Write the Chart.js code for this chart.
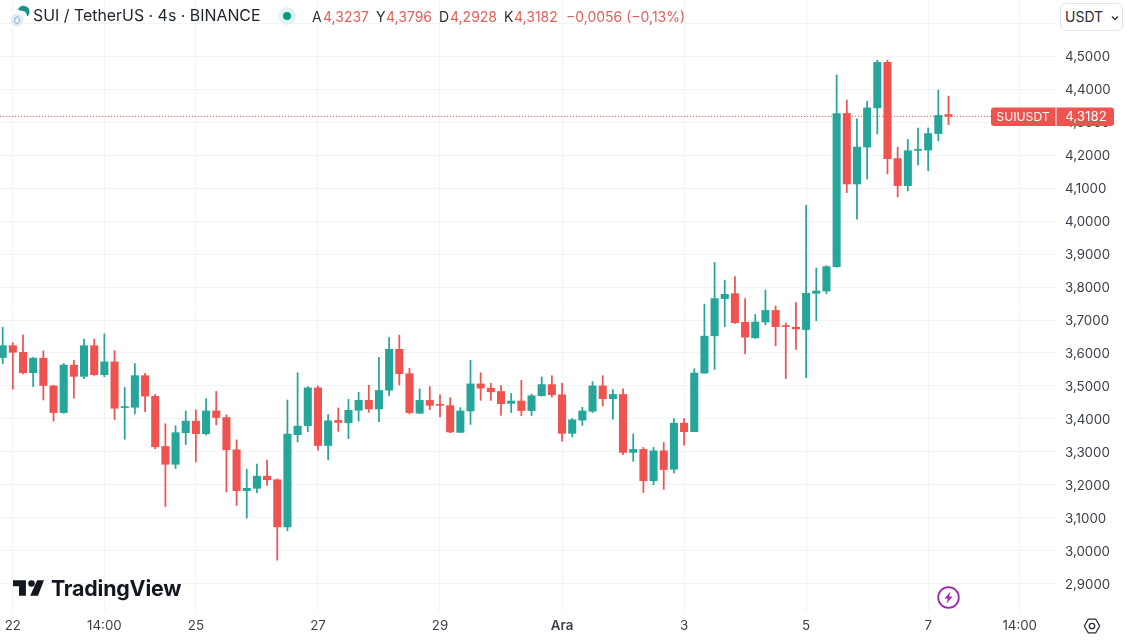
<!DOCTYPE html>
<html>
<head>
<meta charset="utf-8">
<title>SUI / TetherUS</title>
<script src="https://cdn.jsdelivr.net/npm/chart.js@4"></script>
<style>
  html,body{margin:0;padding:0;background:#fff;overflow:hidden}
  body{width:1127px;height:640px;position:relative;font-family:Inter,"Noto Sans",sans-serif;color:#131722}
  #grafica{position:absolute;left:0;top:0}
  .abs{position:absolute;white-space:nowrap}
  .title{left:33px;top:6px;font-size:15.9px;line-height:20px;color:#1e222d}
  .ohlc{top:8px;font-size:14px;line-height:17px;color:#e0605c}
  .ohlc b{font-weight:400;color:#2a2e39}
  .unit{left:1060px;top:3px;width:61px;height:26px;border:1px solid #e0e3eb;border-radius:6px;background:#fff;font-size:14px;line-height:26px;color:#2a2e39}
  .unit span{margin-left:4px}
  .brand{left:51px;top:574px;font-size:21.4px;line-height:28px;font-weight:700;color:#131722;letter-spacing:-.2px}
</style>
</head>
<body>
<canvas id="grafica" width="1127" height="640"></canvas>

<svg class="abs" style="left:10px;top:4px" width="22" height="24" viewBox="0 0 22 24">
  <circle cx="7" cy="16" r="6.5" fill="#e2ebf7"/>
  <path d="M7 12.5c1.7 2 2.5 3.2 2.5 4.3a2.5 2.5 0 0 1-5 0c0-1.1.8-2.3 2.5-4.3z" fill="#fff" stroke="#6fa8dc" stroke-width="1"/>
  <path d="M8 5.5a6 6 0 0 1 11.5 2.5c0 2-1 3.5-2.6 4.5 .3-2.6-1.4-5.4-4.4-5.5-1.8-.1-3.2-.5-4.5-1.5z" fill="#1f8f8a"/>
</svg>
<div class="abs title">SUI / TetherUS · 4s · BINANCE</div>
<svg class="abs" style="left:277px;top:6px" width="20" height="20">
  <circle cx="10" cy="10" r="9" fill="#e3f3f1"/>
  <circle cx="10" cy="10" r="4" fill="#089981"/>
</svg>
<div class="abs ohlc" style="left:312px"><b>A</b></div>
<div class="abs ohlc" style="left:323px">4,3237</div>
<div class="abs ohlc" style="left:376px"><b>Y</b></div>
<div class="abs ohlc" style="left:386px">4,3796</div>
<div class="abs ohlc" style="left:439px"><b>D</b></div>
<div class="abs ohlc" style="left:450px">4,2928</div>
<div class="abs ohlc" style="left:504px"><b>K</b></div>
<div class="abs ohlc" style="left:514px">4,3182</div>
<div class="abs ohlc" style="left:566px">−0,0056 (−0,13%)</div>

<div class="abs unit"><span>USDT</span>
  <svg class="abs" style="left:50px;top:11px" width="8" height="6" viewBox="0 0 8 6"><path d="M1 1.5l3 3 3-3" fill="none" stroke="#2a2e39" stroke-width="1.3"/></svg>
</div>

<svg class="abs" style="left:13px;top:580px" width="31" height="16" viewBox="0 0 36 18">
  <path d="M15 18H7V7H0V0h15zM29 18h-9L28 0h8z" fill="#131722"/>
  <circle cx="21.5" cy="3.8" r="3.8" fill="#131722"/>
</svg>
<div class="abs brand">TradingView</div>

<svg class="abs" style="left:936px;top:585px" width="25" height="25" viewBox="0 0 25 25">
  <circle cx="12.5" cy="12.5" r="10.3" fill="#fff" stroke="#9c27b0" stroke-width="1.8"/>
  <path d="M14.5 6.5l-6 7h3.4l-1.4 5 6-7h-3.4z" fill="#9c27b0"/>
</svg>
<svg class="abs" style="left:1083px;top:617px" width="18" height="18" viewBox="0 0 18 18">
  <path d="M5.2 2.2h7.6L16.7 9l-3.9 6.8H5.2L1.3 9z" fill="none" stroke="#2a2e39" stroke-width="1.3" stroke-linejoin="round"/>
  <circle cx="9" cy="9" r="2.7" fill="none" stroke="#2a2e39" stroke-width="1.3"/>
</svg>

<script>
const apertura = [3.586,3.622,3.602,3.540,3.584,3.500,3.419,3.563,3.529,3.622,
  3.534,3.573,3.434,3.435,3.531,3.468,3.316,3.262,3.358,3.393,
  3.355,3.424,3.404,3.306,3.182,3.189,3.226,3.215,3.072,3.352,
  3.379,3.494,3.319,3.395,3.388,3.426,3.456,3.430,3.487,3.611,
  3.537,3.417,3.456,3.444,3.440,3.359,3.424,3.506,3.493,3.483,
  3.447,3.454,3.425,3.470,3.504,3.473,3.356,3.396,3.423,3.500,
  3.461,3.474,3.298,3.307,3.212,3.303,3.247,3.387,3.361,3.539,
  3.652,3.765,3.780,3.693,3.646,3.694,3.729,3.683,3.678,3.671,
  3.781,3.788,3.862,4.327,4.113,4.225,4.344,4.482,4.190,4.108,
  4.215,4.216,4.266,4.3237];
const maximos = [3.678,3.631,3.654,3.587,3.606,3.502,3.568,3.578,3.642,3.642,
  3.658,3.607,3.495,3.568,3.538,3.474,3.385,3.379,3.424,3.427,
  3.461,3.483,3.412,3.336,3.247,3.263,3.275,3.218,3.457,3.540,
  3.498,3.500,3.413,3.433,3.459,3.480,3.502,3.587,3.647,3.654,
  3.553,3.491,3.498,3.473,3.464,3.434,3.578,3.540,3.508,3.501,
  3.477,3.517,3.475,3.527,3.531,3.508,3.401,3.435,3.513,3.531,
  3.489,3.491,3.354,3.313,3.313,3.328,3.401,3.401,3.552,3.748,
  3.875,3.821,3.832,3.765,3.717,3.791,3.742,3.691,3.753,4.048,
  3.858,3.865,4.444,4.368,4.311,4.364,4.489,4.489,4.225,4.248,
  4.283,4.283,4.398,4.3796];
const minimos = [3.568,3.490,3.536,3.498,3.457,3.393,3.417,3.463,3.522,3.532,
  3.528,3.398,3.338,3.415,3.422,3.309,3.134,3.249,3.322,3.269,
  3.351,3.382,3.178,3.137,3.099,3.176,3.198,2.971,3.060,3.330,
  3.361,3.305,3.275,3.362,3.340,3.393,3.420,3.391,3.470,3.503,
  3.415,3.416,3.428,3.406,3.358,3.358,3.383,3.456,3.456,3.410,
  3.419,3.410,3.410,3.469,3.466,3.332,3.345,3.380,3.419,3.439,
  3.399,3.291,3.271,3.176,3.200,3.186,3.236,3.320,3.361,3.538,
  3.550,3.680,3.690,3.598,3.644,3.685,3.622,3.522,3.611,3.525,
  3.698,3.780,3.860,4.087,4.006,4.128,4.265,4.144,4.074,4.092,
  4.171,4.153,4.244,4.2928];
const cierres = [3.622,3.602,3.540,3.584,3.501,3.419,3.563,3.529,3.622,3.534,
  3.573,3.432,3.437,3.531,3.469,3.315,3.262,3.358,3.393,3.355,
  3.424,3.404,3.306,3.182,3.189,3.226,3.215,3.072,3.354,3.378,
  3.494,3.319,3.394,3.389,3.426,3.456,3.430,3.486,3.611,3.537,
  3.419,3.456,3.441,3.441,3.360,3.424,3.506,3.493,3.482,3.446,
  3.454,3.425,3.470,3.504,3.473,3.356,3.397,3.424,3.500,3.461,
  3.474,3.298,3.307,3.212,3.303,3.246,3.387,3.361,3.539,3.651,
  3.765,3.778,3.692,3.648,3.694,3.729,3.680,3.680,3.673,3.781,
  3.788,3.862,4.327,4.113,4.225,4.344,4.482,4.190,4.108,4.214,
  4.218,4.266,4.321,4.3182];

const posicionesX = [1,10,19,31,43,55,67,79,91,100];
const etiquetasX = ["22","14:00","25","27","29","Ara","3","5","7","14:00"];
const marcasY = [2.9,3.0,3.1,3.2,3.3,3.4,3.5,3.6,3.7,3.8,3.9,4.0,4.1,4.2,4.3,4.4,4.5,4.6];
const ultimoPrecio = 4.3182;

const verde = "#26a69a";
const rojo = "#ef5350";
const texto = "#3a3e49";
const rejilla = "#f2f3f5";
const fuente = 'Inter, "Noto Sans", sans-serif';
const xMin = -0.2625, xMax = 103.57;

function coma(v, d) { return v.toFixed(d).replace(".", ","); }
function colorVela(ctx) {
  const i = ctx.dataIndex;
  return cierres[i] >= apertura[i] ? verde : rojo;
}

const cuerpos = cierres.map((c, i) => ({ x: i, y: [apertura[i], c] }));
const mechas = maximos.map((h, i) => ({ x: i, y: [minimos[i], h] }));

// the price labels sit 1px under their gridline, so they are drawn here
const etiquetaPrecio = {
  id: "etiquetaPrecio",
  afterDraw(chart) {
    const c = chart.ctx;
    const esc = chart.scales.y;
    const y = esc.getPixelForValue(ultimoPrecio);
    c.save();
    c.font = "13.3px " + fuente;
    c.textAlign = "left";
    c.textBaseline = "middle";
    c.fillStyle = texto;
    marcasY.filter(v => v < 4.55).forEach(v => {
      c.fillText(coma(v, 4), 1065, esc.getPixelForValue(v) + 1);
    });
    c.fillStyle = rojo;
    c.beginPath();
    c.roundRect(991, y - 9, 123, 18.5, 3);
    c.fill();
    c.fillStyle = "#fff";
    c.fillRect(1055.5, y - 9, 1, 18.5);
    c.textAlign = "center";
    c.fillText(coma(ultimoPrecio, 4), 1086, y + 1);
    c.font = "12.2px " + fuente;
    c.fillText("SUIUSDT", 1023, y + 1);
    c.restore();
  }
};

new Chart(document.getElementById("grafica").getContext("2d"), {
  type: "bar",
  plugins: [etiquetaPrecio],
  data: {
    datasets: [
      {
        type: "line",
        data: [{ x: xMin, y: ultimoPrecio }, { x: xMax, y: ultimoPrecio }],
        borderColor: rojo,
        borderWidth: 1,
        borderDash: [1, 2],
        pointRadius: 0,
        order: 3
      },
      {
        data: mechas,
        backgroundColor: colorVela,
        barThickness: 1.1,
        grouped: false,
        order: 2
      },
      {
        data: cuerpos,
        backgroundColor: colorVela,
        barThickness: 7.4,
        grouped: false,
        order: 1
      }
    ]
  },
  options: {
    responsive: false,
    animation: false,
    layout: { padding: 0 },
    plugins: { legend: { display: false }, tooltip: { enabled: false } },
    scales: {
      x: {
        type: "linear",
        offset: false,
        min: xMin,
        max: xMax,
        border: { display: false },
        grid: { color: rejilla, offset: false, drawTicks: false },
        afterBuildTicks(s) { s.ticks = posicionesX.map(v => ({ value: v })); },
        afterFit(s) { s.height = 29; s.paddingLeft = 0; s.paddingRight = 0; },
        ticks: {
          autoSkip: false,
          maxRotation: 0,
          padding: 7,
          color: texto,
          font: c => ({ family: fuente, size: 13.3, weight: etiquetasX[c.index] === "Ara" ? "600" : "400" }),
          callback: (v, i) => etiquetasX[i]
        }
      },
      y: {
        position: "right",
        min: 2.8166,
        max: 4.6715,
        border: { display: false },
        grid: { color: rejilla, drawTicks: false },
        afterBuildTicks(s) { s.ticks = marcasY.map(v => ({ value: v })); },
        afterFit(s) { s.width = 71; s.paddingTop = 0; s.paddingBottom = 0; },
        ticks: { display: false }
      }
    }
  }
});
</script>
</body>
</html>
